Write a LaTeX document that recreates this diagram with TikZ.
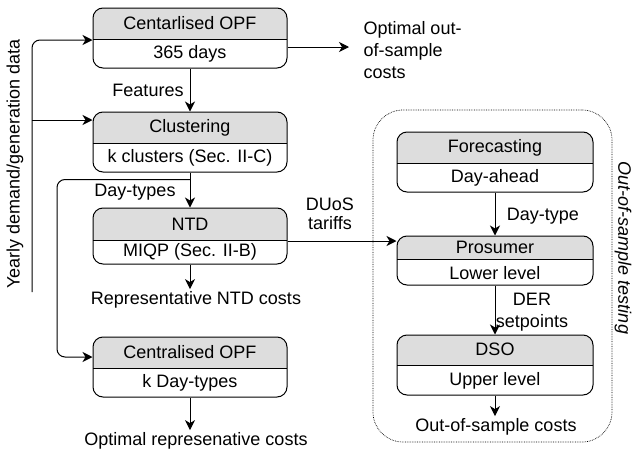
\documentclass[tikz,border=0pt]{standalone}
\usepackage{fontspec}
\setmainfont{Liberation Sans}
\usetikzlibrary{arrows.meta,calc}
\definecolor{hdrfill}{HTML}{DDDDDD}
\begin{document}
\begin{tikzpicture}[x=1pt,y=-1pt,line width=1pt,
  txt/.style={font=\fontsize{18}{21}\selectfont},
  every node/.style={txt},
  lbl/.style={inner sep=2pt},
  arr/.style={-{Stealth[length=10pt,width=10pt,inset=3pt]}},
  sbox/.style n args={3}{draw, rounded corners=10pt, minimum width=#1, minimum height=#2, inner sep=0pt,
    path picture={\fill[hdrfill,sharp corners] (path picture bounding box.north west) rectangle ([yshift=-#3]path picture bounding box.north east);
      \draw[sharp corners,line width=1pt] ([yshift=-#3]path picture bounding box.north west) -- ([yshift=-#3]path picture bounding box.north east);}}
  ]
\useasboundingbox (0,0) rectangle (633,453);

% dotted out-of-sample region
\node[draw, line width=0.7pt, dash pattern=on 0.7pt off 1pt, rounded corners=30pt, minimum width=239pt, minimum height=332pt, inner sep=0pt] (oosbox) at (492.5,276) {};
\node[rotate=-90, inner sep=0pt, font=\fontsize{18}{21}\selectfont\itshape] (oostest) at (623,248) {Out-of-sample testing};

% left column boxes
\node[sbox={194pt}{60pt}{31pt}] (opf1) at (190,38) {};
\node (opf1h) at (190,23.5) {Centarlised OPF};
\node (opf1b) at (190,53.5) {365 days};

\node[sbox={194pt}{60pt}{31pt}] (clus) at (190,142) {};
\node (clush) at (190,127.5) {Clustering};
\node (clusb) at (190,157.5) {k clusters (Sec. II-C)};

\node[sbox={194pt}{56pt}{32pt}] (ntd) at (190,236) {};
\node (ntdh) at (190,224) {NTD};
\node (ntdb) at (190,252) {MIQP (Sec. II-B)};

\node[sbox={194pt}{60pt}{31pt}] (opf2) at (190,367) {};
\node (opf2h) at (190,352.5) {Centralised OPF};
\node (opf2b) at (190,382.5) {k Day-types};

% right column boxes
\node[sbox={196pt}{60pt}{31pt}] (fore) at (495,162) {};
\node (foreh) at (495,147.5) {Forecasting};
\node (foreb) at (495,177.5) {Day-ahead};

\node[sbox={196pt}{49pt}{23pt}] (pros) at (495,260.5) {};
\node (prosh) at (495,247.5) {Prosumer};
\node (prosb) at (495,273) {Lower level};

\node[sbox={196pt}{60pt}{30pt}] (dso) at (495,365) {};
\node (dsoh) at (495,349) {DSO};
\node (dsob) at (495,381) {Upper level};

% labels
\node[rotate=90] (ylab) at (15,164) {Yearly demand/generation data};
\node (feat) at (148,90) {Features};
\node (dtyp) at (135,192) {Day-types};
\node[lbl] (rntd) at (196,300) {Representative NTD costs};
\node[lbl] (orep) at (196,441) {Optimal represenative costs};
\node[anchor=west, align=left, inner sep=0pt, font=\fontsize{18}{22}\selectfont] (oopt) at (363,50) {Optimal out-\\of-sample\\costs};
\node[align=center, font=\fontsize{18}{19}\selectfont] (duos) at (330,214) {DUoS\\tariffs};
\node (dtype) at (543,216) {Day-type};
\node[align=center, font=\fontsize{18}{22}\selectfont] (der) at (532,312) {DER\\setpoints};
\node[lbl] (ooc) at (496,427) {Out-of-sample costs};

% connectors
\coordinate (yb) at (32,292);
\coordinate (yt) at (32,40);
\coordinate (ym) at (32,120);
\draw[arr, rounded corners=8pt] (yb) -- (yt) -- (opf1.west |- yt);
\draw[arr] (ym) -- (clus.west |- ym);

\draw[arr] (opf1) -- (clus);
\draw[arr] (clus) -- (ntd);

\coordinate (dt) at ($(clus.south)+(0,7)$);
\coordinate (dtc) at (57,357);
\draw[arr, rounded corners=8pt] (dt) -| (dtc) -- (opf2.west |- dtc);

\coordinate (o1) at ($(opf1.east)+(0,9)$);
\coordinate (o1e) at (349,47);
\draw[arr] (o1) -- (o1e);

\coordinate (nt) at ($(ntd.east)+(0,5)$);
\draw[arr] (nt) -- (pros.west |- nt);

\draw[arr] (ntd.south) -- (ntd.south |- rntd.north);
\draw[arr] (opf2.south) -- (opf2.south |- orep.north);

\draw[arr] (fore) -- (pros);
\draw[arr] (pros) -- (dso);
\draw[arr] (dso.south) -- (dso.south |- ooc.north);
\end{tikzpicture}
\end{document}
